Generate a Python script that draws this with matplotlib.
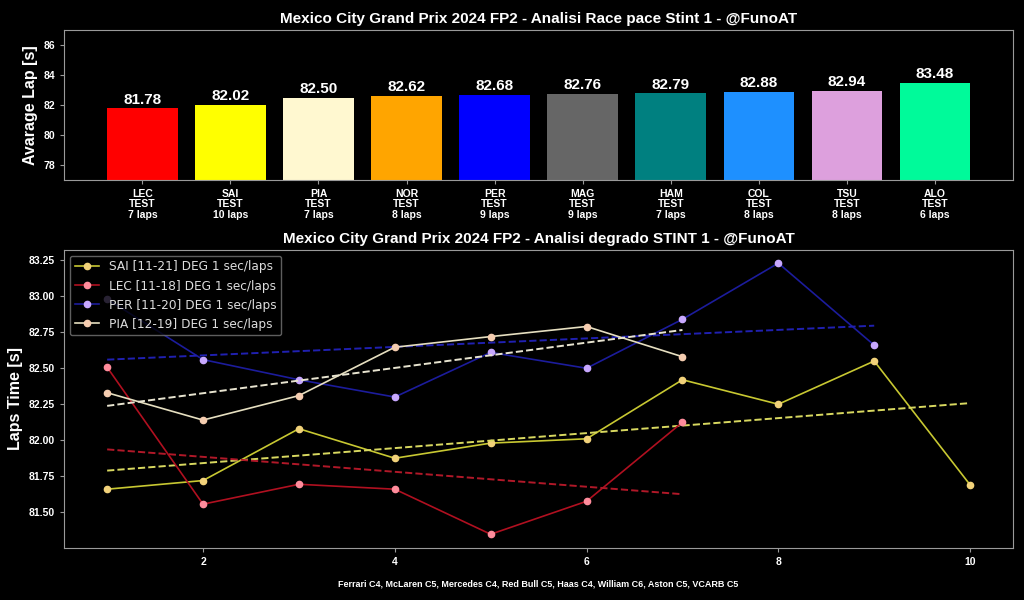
import numpy as np
import matplotlib
matplotlib.use("Agg")
import matplotlib.pyplot as plt

# === Dati barre (media passo gara) ===
drivers = ["LEC", "SAI", "PIA", "NOR", "PER", "MAG", "HAM", "COL", "TSU", "ALO"]
compound = ["TEST"] * 10
n_laps = [7, 10, 7, 8, 9, 9, 7, 8, 8, 6]
avg_lap = [81.78, 82.02, 82.50, 82.62, 82.68, 82.76, 82.79, 82.88, 82.94, 83.48]
bar_colors = ["#ff0000", "#ffff00", "#fff8d0", "#ffa500", "#0000ff",
              "#666666", "#008080", "#1e90ff", "#dda0dd", "#00fa9a"]

# === Dati degrado stint 1 ===
sai_laps = [81.66, 81.72, 82.08, 81.875, 81.98, 82.01, 82.42, 82.25, 82.55, 81.69]
lec_laps = [82.507, 81.556, 81.694, 81.66, 81.347, 81.576, 82.125]
per_laps = [82.98, 82.56, 82.42, 82.30, 82.61, 82.50, 82.84, 83.23, 82.66]
pia_laps = [82.33, 82.14, 82.31, 82.646, 82.72, 82.79, 82.58]
series_labels = ["SAI [11-21] DEG 1 sec/laps", "LEC [11-18] DEG 1 sec/laps",
                 "PER [11-20] DEG 1 sec/laps", "PIA [12-19] DEG 1 sec/laps"]
line_colors = ["#c8c832", "#b01020", "#1c1c9c", "#e6dfc0"]
marker_colors = ["#f2d27a", "#ff8c9c", "#c8a8ff", "#f5cdb0"]
trend_colors = ["#d8d860", "#b01828", "#2020b0", "#e8e4d0"]
compounds_text = "Ferrari C4, McLaren C5, Mercedes C4, Red Bull C5, Haas C4, William C6, Aston C5, VCARB C5"

font = ["Liberation Sans", "DejaVu Sans"]
spine_col = "#9a9a9a"

fig = plt.figure(figsize=(10.24, 6), dpi=100, facecolor="black")

# --- Grafico 1: barre ---
ax1 = fig.add_axes([0.0625, 0.70, 0.927, 0.25], facecolor="black")
x = np.arange(len(drivers))
bars = ax1.bar(x, avg_lap, color=bar_colors, width=0.8)
for b, v in zip(bars, avg_lap):
    ax1.text(b.get_x() + b.get_width() / 2, v + 0.1, f"{v:.2f}", ha="center", va="bottom",
             color="white", fontsize=11, fontweight="bold", family=font)
ax1.set_ylim(77, 87)
ax1.set_yticks([78, 80, 82, 84, 86])
ax1.set_xticks(x)
ax1.set_xticklabels([f"{d}\n{c}\n{n} laps" for d, c, n in zip(drivers, compound, n_laps)],
                    linespacing=1.05)
ax1.set_ylabel("Avarage Lap [s]", color="white", fontsize=11.5, fontweight="bold", family=font)
ax1.set_title("Mexico City Grand Prix 2024 FP2 - Analisi Race pace Stint 1 - @FunoAT",
              color="white", fontsize=11, fontweight="bold", family=font, pad=5)

# --- Grafico 2: degrado ---
ax2 = fig.add_axes([0.0625, 0.087, 0.927, 0.497], facecolor="black")
all_series = [sai_laps, lec_laps, per_laps, pia_laps]
for s, lab, lc, mc, tc in zip(all_series, series_labels, line_colors, marker_colors, trend_colors):
    xs = np.arange(1, len(s) + 1)
    ax2.plot(xs, s, color=lc, lw=1.2, marker="o", markersize=4.5,
             markerfacecolor=mc, markeredgecolor=mc, label=lab)
    k, q = np.polyfit(xs, s, 1)
    ax2.plot(xs, k * xs + q, color=tc, lw=1.4, ls="--")
ax2.set_yticks([81.50, 81.75, 82.00, 82.25, 82.50, 82.75, 83.00, 83.25])
ax2.set_yticklabels([f"{v:.2f}" for v in ax2.get_yticks()])
ax2.set_xticks([2, 4, 6, 8, 10])
ax2.set_ylabel("Laps Time [s]", color="white", fontsize=11.5, fontweight="bold", family=font)
ax2.set_xlabel(compounds_text, color="white", fontsize=6.5, fontweight="bold", family=font, labelpad=9)
ax2.set_title("Mexico City Grand Prix 2024 FP2 - Analisi degrado STINT 1 - @FunoAT",
              color="white", fontsize=11, fontweight="bold", family=font, pad=5)
leg = ax2.legend(loc="upper left", facecolor="black", edgecolor="#777777", fontsize=8.7,
                 labelcolor="#dddddd", framealpha=0.8)

for ax in (ax1, ax2):
    for sp in ax.spines.values():
        sp.set_color(spine_col)
    ax.tick_params(colors=spine_col, labelcolor="white", length=3)
    for lbl in ax.get_xticklabels() + ax.get_yticklabels():
        lbl.set_fontsize(7.5); lbl.set_fontweight("bold"); lbl.set_family(font)

fig.savefig("out.png", dpi=100, facecolor="black")
